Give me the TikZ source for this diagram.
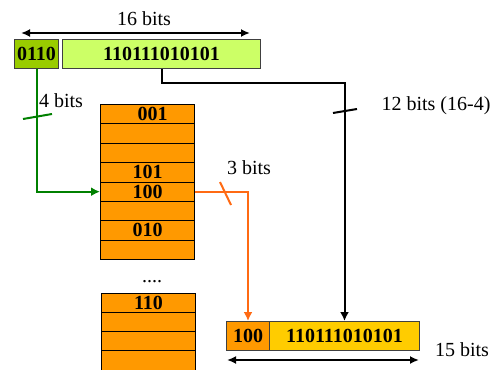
\documentclass[tikz,border=0pt]{standalone}
\usepackage{fontspec}
\setmainfont{Liberation Serif}
\usetikzlibrary{arrows.meta}
\definecolor{lgreen}{HTML}{CCFF66}
\definecolor{dgreen}{HTML}{99CC00}
\definecolor{tblorange}{HTML}{FF9900}
\definecolor{goldbox}{HTML}{FFCC00}
\definecolor{linegreen}{HTML}{008000}
\definecolor{lineorange}{HTML}{FF6A13}
\begin{document}
\begin{tikzpicture}[x=1pt,y=-1pt,
 every node/.style={font=\fontsize{20}{24}\selectfont, inner sep=0pt},
 box/.style={draw=black!75, line width=1pt, font=\fontsize{20}{24}\selectfont\bfseries, anchor=north west, minimum height=29pt},
 row/.style={draw=black, line width=1pt, fill=tblorange, minimum width=94pt, minimum height=19.375pt, anchor=north west, font=\fontsize{20}{24}\selectfont\bfseries},
 conn/.style={line width=2pt},
 tip/.style={-{Latex[length=9pt,width=9pt]}},
 dim/.style={line width=2pt, {Latex[length=9pt,width=8pt]}-{Latex[length=9pt,width=8pt]}},
 tick/.style={line width=2pt},
]
\clip (0,0) rectangle (500,369);
\fill[white] (0,0) rectangle (500,369);

% top boxes
\node[box, fill=dgreen, minimum width=44pt] (a) at (14,39) {0110};
\node[box, fill=lgreen, minimum width=198pt] (b) at (62,39) {110111010101};

% first table
\foreach \i/\t in {1/\hspace*{10pt}001,2/,3/,4/101,5/100,6/,7/010,8/}
  \node[row] (t\i) at (100,{104+(\i-1)*19.375}) {\t};

% second table
\foreach \i/\t in {1/110,2/,3/}
  \node[row, minimum height=19pt] (u\i) at (101,{293+(\i-1)*19}) {\t};
\node[row, minimum height=30pt] (u4) at (101,350) {};

\node[anchor=base] (dots) at (152,282) {....};

% bottom boxes
\node[box, fill=tblorange, minimum width=43pt] (o) at (226,321) {100};
\node[box, fill=goldbox, minimum width=150pt] (g) at (269,321) {110111010101};

% connectors
\draw[conn, linegreen, tip] (a.south) -- (a.south |- t5.west) -- (t5.west);
\draw[conn, lineorange, tip] (t5.east) -| (o.north);
\draw[conn, black, tip] (b.south) -- ++(0,14) -| (g.north);

% ticks
\draw[tick, linegreen] (23,119) -- (52,114);
\draw[tick, lineorange] (220,182) -- (231,205);
\draw[tick, black] (333,113) -- (357,109);

% dimension arrows
\coordinate (d1) at (21,33);
\coordinate (d2) at (250,33);
\draw[dim] (d1) -- (d2);
\coordinate (e1) at (227,360);
\coordinate (e2) at (419,360);
\draw[dim] (e1) -- (e2);

% labels
\node (l16) at (144,19) {16 bits};
\node (l4) at (61,101) {4 bits};
\node (l3) at (249,168) {3 bits};
\node (l12) at (436,106) {12 bits (16-4)};
\node (l15) at (462,350) {15 bits};
\end{tikzpicture}
\end{document}
